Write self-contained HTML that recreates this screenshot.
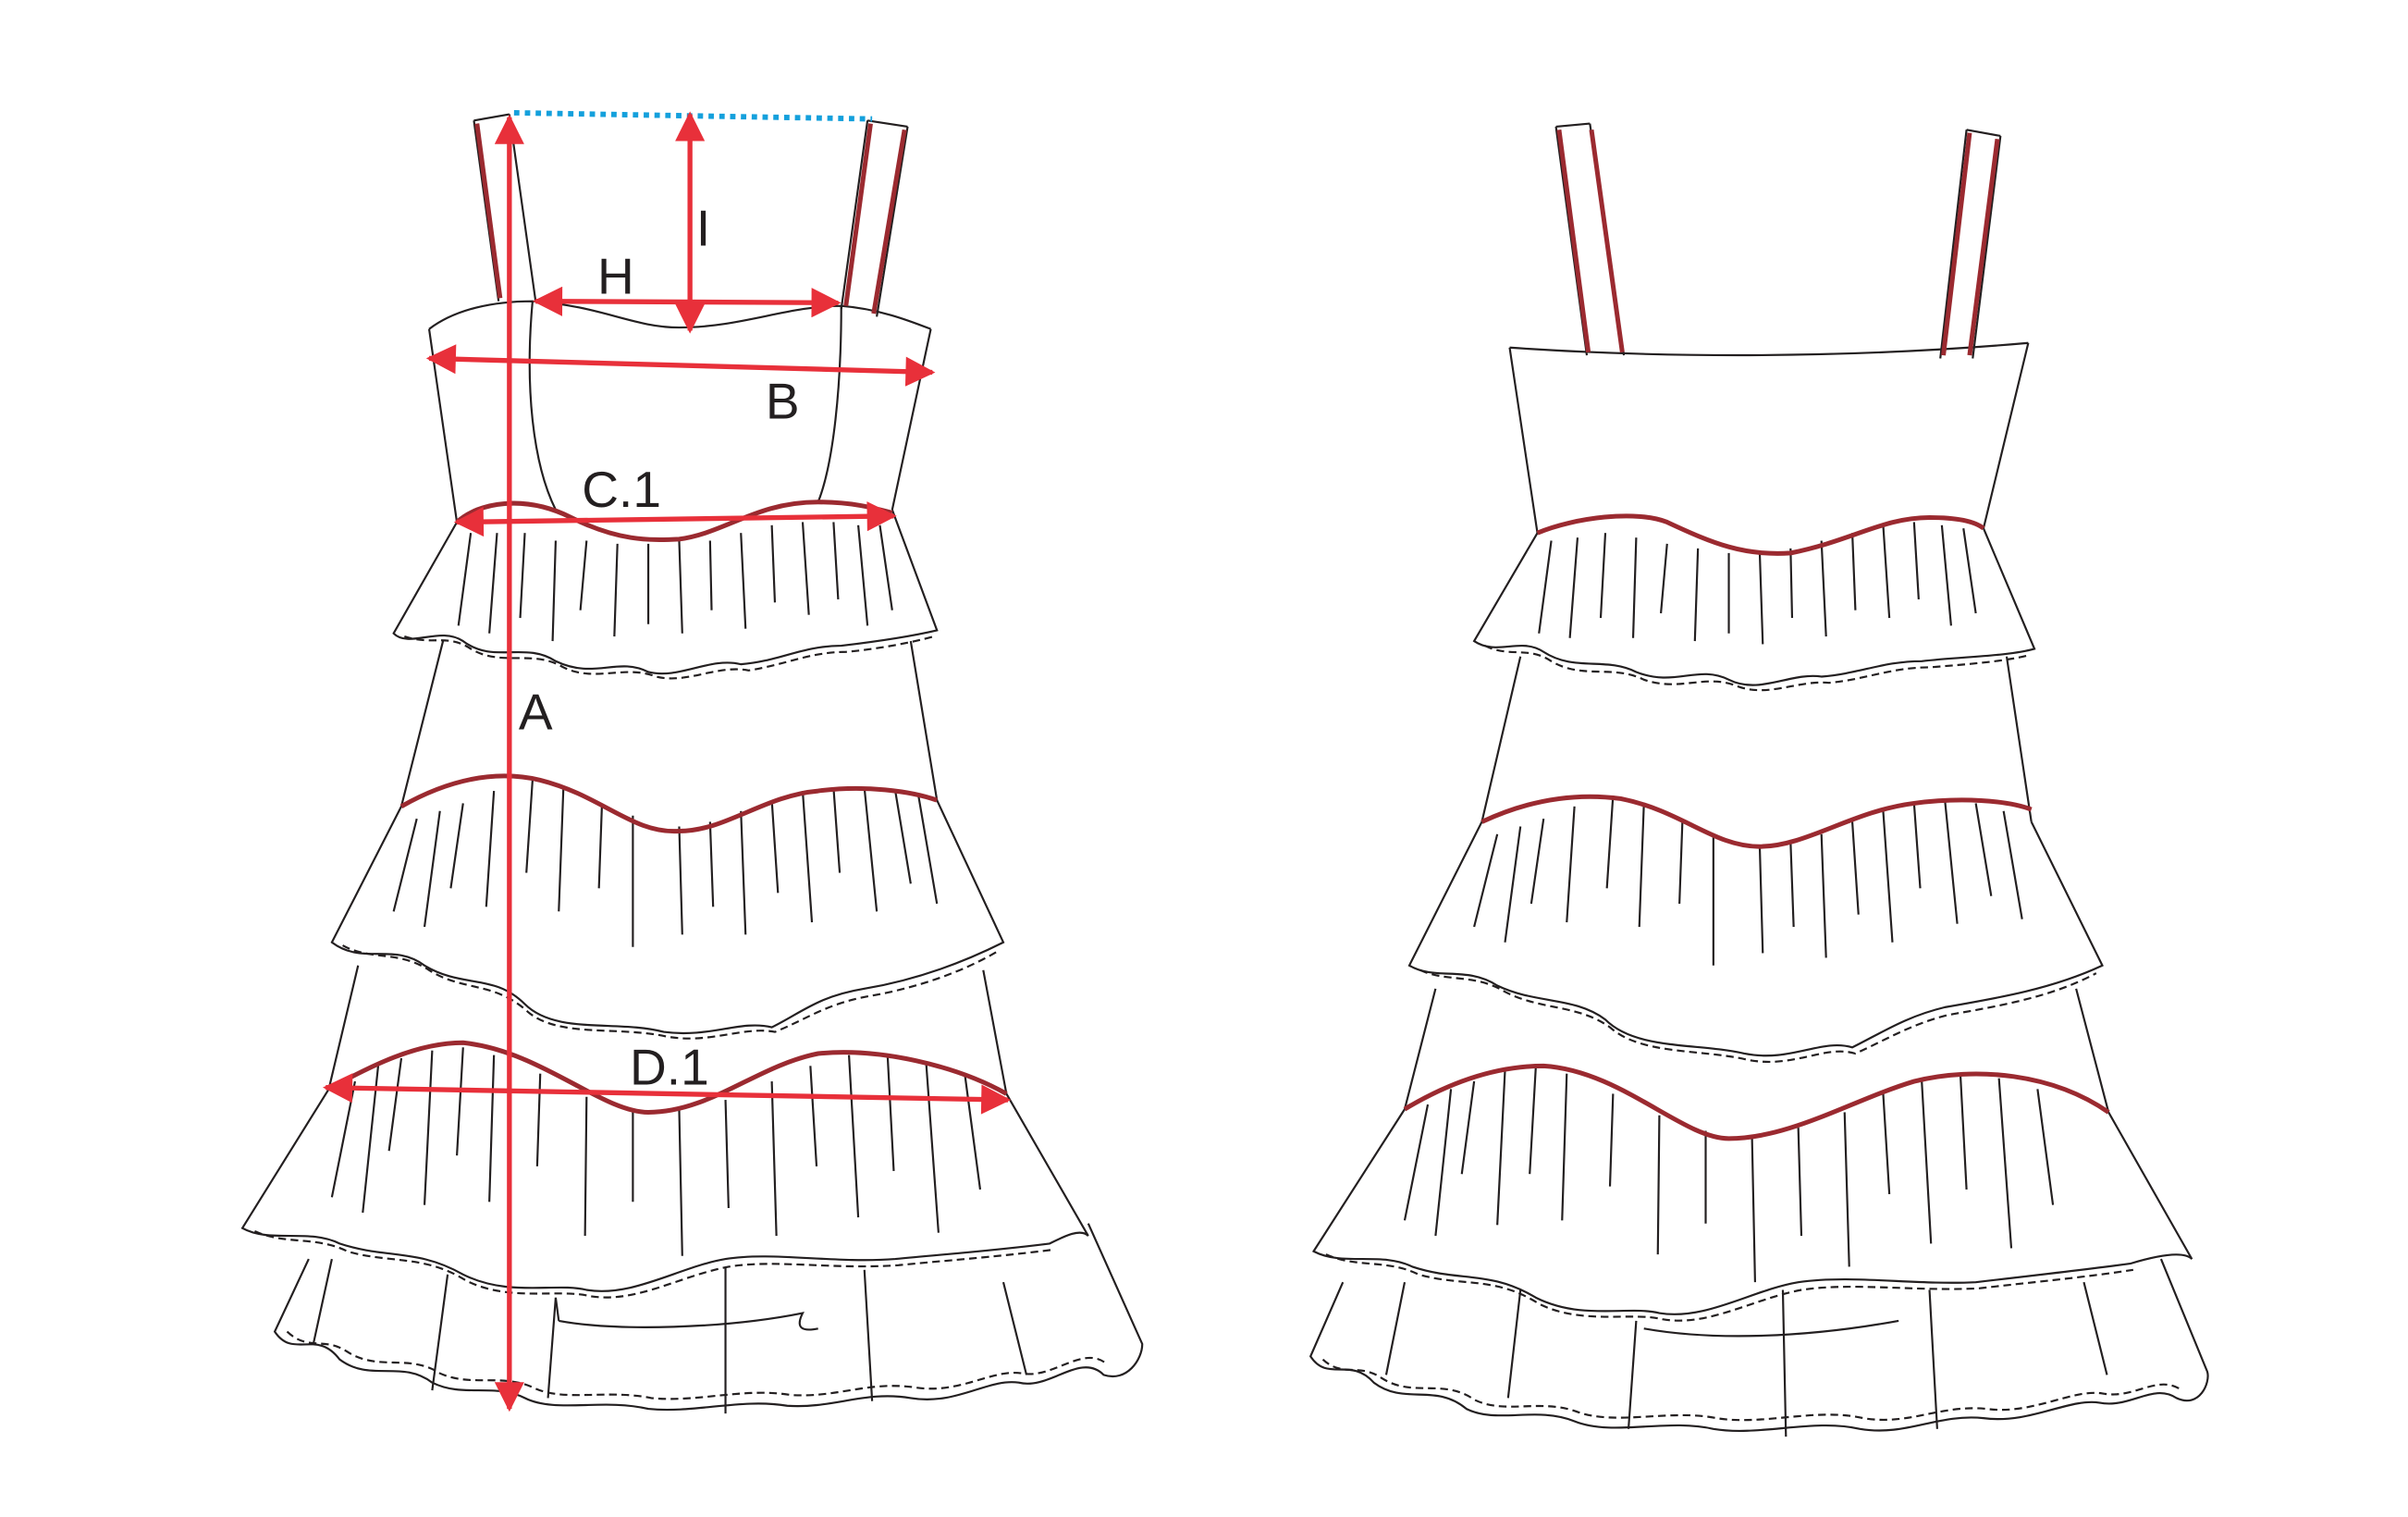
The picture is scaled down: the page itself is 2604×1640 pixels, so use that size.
<!DOCTYPE html>
<html><head><meta charset="utf-8"><style>
html,body{margin:0;padding:0;background:#fff;}
svg{display:block;}
text{font-family:"Liberation Sans",sans-serif;font-size:33px;fill:#231f20;}
</style></head><body>
<svg width="2604" height="1640" viewBox="0 0 1560 982" preserveAspectRatio="none" xmlns="http://www.w3.org/2000/svg">
<defs>
<marker id="ar" viewBox="0 0 10 10" refX="9" refY="5" markerWidth="7" markerHeight="6" orient="auto-start-reverse" markerUnits="strokeWidth"><path d="M0 0L10 5L0 10z" fill="#e8303a"/></marker>
</defs>
<g fill="none" stroke="#231f20" stroke-width="1.3">
<!-- FRONT -->
<path d="M307 78L323 195M330 74L347 195M307 78L330 74"/>
<path d="M562 78L545 200M588 82L568 205M562 78L588 82"/>
<path d="M278 213C295 200 320 195 345 195C390 198 410 212 440 212C480 212 510 198 545 198C570 200 590 208 603 213"/>
<path d="M278 213L296 338M603 213L578 330M345 195C340 250 345 300 360 330M545 198C545 250 540 300 530 325"/>
<path d="M296 338L255 410C265 420 285 405 300 415C320 430 340 415 360 428C385 440 400 425 420 435C440 440 460 425 480 430C505 428 520 418 545 418C570 415 590 412 607 408L578 330"/>
<path d="M262 412C280 418 290 410 305 420C325 432 345 420 365 432C385 442 405 430 425 438C445 443 465 430 485 434C510 430 525 422 548 422C570 420 590 416 605 412" stroke-dasharray="5 3"/>
<path d="M305 345l-8 60M322 345l-5 65M340 345l-3 55M360 350l-2 65M380 350l-4 45M400 352l-2 60M420 352l0 52M440 350l2 60M460 350l1 45M480 345l3 62M500 340l2 50M520 338l4 60M540 338l3 50M556 340l6 65M570 340l8 55"/>
<path d="M287 415L260 522M590 415L607 518"/>
<path d="M260 522L215 610C235 625 255 610 275 625C300 640 320 630 340 650C360 670 400 660 430 668C460 672 480 660 500 665C520 655 530 645 560 640C590 635 620 625 650 610L607 518"/>
<path d="M222 612C240 622 258 615 278 628C300 642 320 635 342 655C362 672 400 664 432 671C460 676 482 664 502 668C522 660 535 650 562 645C592 640 622 630 646 616" stroke-dasharray="5 3"/>
<path d="M270 530l-15 60M285 525l-10 75M300 520l-8 55M320 512l-5 75M345 505l-4 60M365 510l-3 80M390 520l-2 55M410 528l0 85M440 535l2 70M460 532l2 55M480 525l3 80M500 518l4 60M520 512l6 85M540 510l4 55M560 510l8 80M580 512l10 60M595 515l12 70"/>
<path d="M232 625L213 705M637 628L652 708"/>
<path d="M213 705L157 795C175 805 200 795 220 805C250 815 270 808 300 825C330 840 360 830 380 835C410 840 440 820 470 815C500 810 540 818 580 815C610 812 640 810 680 805C690 800 700 795 705 800L652 708"/>
<path d="M165 797C185 806 205 800 225 810C252 818 275 812 302 829C330 843 362 834 382 839C412 844 440 826 472 820C502 815 540 822 582 819C612 816 642 814 682 809" stroke-dasharray="5 3"/>
<path d="M230 700l-15 75M245 690l-10 95M260 685l-8 60M280 680l-5 100M300 678l-4 70M320 683l-3 95M350 695l-2 60M380 710l-1 90M410 718l0 60M440 718l2 95M470 712l2 70M500 700l3 100M525 690l4 65M550 683l6 105M575 683l4 75M600 688l8 110M625 695l10 75"/>
<path d="M200 815L178 862C190 880 205 860 220 880C240 895 260 880 280 895C300 905 320 895 340 905C360 915 390 905 420 912C450 915 480 905 510 910C540 912 560 900 590 905C620 910 640 892 660 895C680 900 700 875 715 890C730 895 740 880 740 870L705 792"/>
<path d="M186 862C200 875 210 865 225 875C245 888 265 876 285 889C305 898 325 889 345 898C365 908 392 899 422 905C452 908 482 898 512 903C542 905 562 894 592 898C622 903 642 886 662 889C682 893 702 870 717 883" stroke-dasharray="5 3"/>
<path d="M215 815l-12 55M290 825l-10 75M360 840l-5 65M470 820l0 95M560 822l5 85M650 830l15 60"/>
<path d="M362 855C400 862 470 860 520 850C515 860 520 862 530 860M360 840L362 855"/>
<!-- BACK -->
<path d="M1008 82L1028 230M1030 80L1052 230M1008 82L1030 80"/>
<path d="M1274 84L1257 232M1296 88L1278 232M1274 84L1296 88"/>
<path d="M978 225C1080 232 1200 232 1314 222M978 225L996 345M1314 222L1285 342"/>
<path d="M996 345L955 415C970 425 985 412 1000 422C1020 435 1040 425 1060 435C1085 445 1100 430 1120 440C1140 450 1160 435 1180 438C1205 436 1220 428 1245 428C1270 425 1300 425 1318 420L1285 342"/>
<path d="M962 418C978 426 990 418 1005 428C1025 440 1045 430 1065 440C1088 448 1105 436 1125 444C1145 452 1165 440 1185 442C1208 440 1225 432 1250 432C1275 430 1300 428 1315 424" stroke-dasharray="5 3"/>
<path d="M1005 350l-8 60M1022 348l-5 65M1040 345l-3 55M1060 348l-2 65M1080 352l-4 45M1100 355l-2 60M1120 358l0 52M1140 357l2 60M1160 355l1 45M1180 350l3 62M1200 345l2 50M1220 340l4 60M1240 338l3 50M1258 340l6 65M1272 342l8 55"/>
<path d="M985 425L960 532M1300 425L1316 532"/>
<path d="M960 532L913 625C930 635 950 625 970 638C995 650 1020 645 1040 660C1060 680 1100 675 1130 682C1160 688 1180 672 1200 678C1220 668 1235 658 1260 652C1295 646 1330 640 1362 625L1316 532"/>
<path d="M920 628C938 636 955 630 975 642C998 654 1022 650 1043 665C1063 683 1102 679 1132 686C1162 692 1182 676 1202 682C1222 673 1238 663 1262 657C1297 651 1330 645 1358 630" stroke-dasharray="5 3"/>
<path d="M970 540l-15 60M985 535l-10 75M1000 530l-8 55M1020 522l-5 75M1045 515l-4 60M1065 520l-3 80M1090 530l-2 55M1110 540l0 85M1140 547l2 70M1160 545l2 55M1180 540l3 80M1200 532l4 60M1220 525l6 85M1240 520l4 55M1260 518l8 80M1280 520l10 60M1298 525l12 70"/>
<path d="M930 640L910 718M1345 640L1366 720"/>
<path d="M910 718L851 810C870 820 895 810 915 820C945 830 965 822 995 840C1025 855 1055 845 1075 850C1105 855 1135 835 1165 830C1200 825 1240 832 1280 830C1315 826 1350 822 1380 818C1400 812 1415 810 1420 815L1366 720"/>
<path d="M859 812C879 821 899 815 919 825C947 833 969 826 997 844C1025 858 1057 849 1077 854C1107 859 1135 841 1167 835C1200 830 1240 836 1282 834C1316 830 1350 827 1382 822" stroke-dasharray="5 3"/>
<path d="M925 715l-15 75M940 705l-10 95M955 700l-8 60M975 693l-5 100M995 690l-4 70M1015 695l-3 95M1045 708l-2 60M1075 722l-1 90M1105 732l0 60M1135 735l2 95M1165 730l2 70M1195 720l3 100M1220 708l4 65M1245 700l6 105M1270 695l4 75M1295 698l8 110M1320 705l10 75"/>
<path d="M870 830L849 878C860 895 875 878 890 895C910 910 930 895 950 912C970 922 995 910 1020 920C1045 930 1080 918 1110 925C1140 930 1175 918 1205 925C1235 930 1255 915 1285 918C1315 922 1340 905 1360 908C1380 912 1395 895 1410 905C1425 912 1432 895 1430 888L1400 815"/>
<path d="M857 880C870 892 880 882 895 892C915 905 935 892 955 906C975 916 998 905 1022 914C1047 923 1082 912 1112 918C1142 923 1177 911 1207 918C1237 923 1257 909 1287 912C1317 916 1342 899 1362 902C1382 906 1397 890 1412 899" stroke-dasharray="5 3"/>
<path d="M910 830l-12 60M985 835l-8 70M1060 855l-5 70M1155 835l2 95M1250 835l5 90M1350 830l15 60"/>
<path d="M1065 860C1110 868 1170 866 1230 855"/>
</g>
<g fill="none" stroke="#9b2a30" stroke-width="3">
<path d="M309 80L324 193M564 80L548 198M586 84L566 203"/>
<path d="M296 338C310 325 340 320 370 335C400 350 420 350 440 349C470 345 490 325 530 325C555 325 570 330 578 332"/>
<path d="M260 522C290 505 320 498 350 505C390 515 410 540 440 538C470 538 495 515 530 512C560 508 590 512 607 518"/>
<path d="M213 705C240 690 270 675 300 675C350 680 390 720 420 720C460 720 490 690 530 682C570 678 620 690 652 708"/>
<path d="M1010 84L1029 228M1031 84L1051 228M1276 86L1259 230M1294 90L1276 230"/>
<path d="M996 345C1020 335 1060 330 1080 338C1110 352 1130 360 1160 358C1200 350 1220 335 1250 335C1270 335 1280 338 1285 342"/>
<path d="M960 532C990 518 1020 513 1050 517C1090 525 1110 548 1140 548C1170 548 1200 525 1240 520C1270 516 1300 518 1316 524"/>
<path d="M910 718C940 700 970 690 1000 690C1050 693 1090 737 1120 737C1160 737 1200 712 1240 700C1280 690 1330 695 1366 720"/>
</g>
<path d="M333 73L565 77" stroke="#14a0dc" stroke-width="3.5" stroke-dasharray="3.5 3.5" fill="none"/>
<g stroke="#e8303a" stroke-width="3.2" fill="none" marker-start="url(#ar)" marker-end="url(#ar)">
<path d="M330 76L330 912"/>
<path d="M447 74L447 214"/>
<path d="M347 195L543 196"/>
<path d="M278 232L604 241"/>
<path d="M296 338L579 334"/>
<path d="M211 704L653 712"/>
</g>
<text x="451" y="159">I</text>
<text x="387" y="190">H</text>
<text x="496" y="271">B</text>
<text x="377" y="328">C.1</text>
<text x="336" y="472">A</text>
<text x="408" y="702">D.1</text>
</svg>
</body></html>
